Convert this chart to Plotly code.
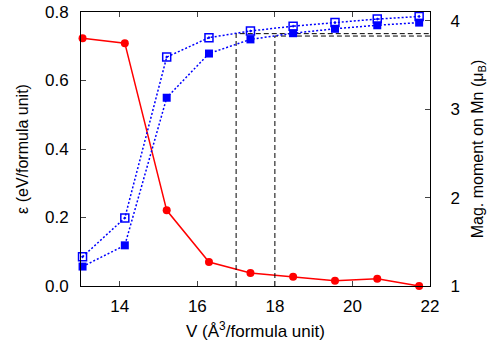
import plotly.graph_objects as go

# Volumen pro Formeleinheit
volumen = [13.04, 14.13, 15.21, 16.30, 17.37, 18.47, 19.55, 20.64, 21.72]
# Energie (linke Achse)
energie = [0.723, 0.709, 0.221, 0.070, 0.038, 0.027, 0.015, 0.021, 0.0]
# magnetisches Moment (rechte Achse)
moment_offen = [1.33, 1.77, 3.59, 3.81, 3.885, 3.94, 3.98, 4.02, 4.05]
moment_voll = [1.22, 1.46, 3.13, 3.63, 3.79, 3.86, 3.91, 3.95, 3.98]

# gestrichelte Hilfslinien
grenze_v = [17, 18]
grenze_m = [3.855, 3.828]

x_ticks = [14, 16, 18, 20, 22]
y_ticks = [0.0, 0.2, 0.4, 0.6, 0.8]
y2_ticks = [1, 2, 3, 4]

schrift = "Liberation Sans, Arial, sans-serif"

fig = go.Figure()

for v, m in zip(grenze_v, grenze_m):
    fig.add_trace(go.Scatter(x=[v, v, 22], y=[1, m, m], yaxis="y2", mode="lines",
                             line=dict(color="black", width=1, dash="5px,3px"),
                             showlegend=False, hoverinfo="skip"))

fig.add_trace(go.Scatter(x=volumen, y=energie, mode="lines+markers",
                         line=dict(color="#ff0000", width=1.5),
                         marker=dict(color="#ff0000", size=8, symbol="circle"),
                         showlegend=False, cliponaxis=False))

fig.add_trace(go.Scatter(x=volumen, y=moment_offen, yaxis="y2", mode="lines+markers",
                         line=dict(color="#0000ff", width=1.5, dash="2px,2px"),
                         marker=dict(color="#0000ff", size=8, symbol="square-open-dot",
                                     line=dict(width=1.5)),
                         showlegend=False, cliponaxis=False))

fig.add_trace(go.Scatter(x=volumen, y=moment_voll, yaxis="y2", mode="lines+markers",
                         line=dict(color="#0000ff", width=1.5, dash="2px,2px"),
                         marker=dict(color="#0000ff", size=8, symbol="square"),
                         showlegend=False, cliponaxis=False))

fig.update_layout(
    width=500, height=341,
    margin=dict(l=81, r=70, t=12, b=55, autoexpand=False),
    paper_bgcolor="white", plot_bgcolor="white",
    font=dict(family=schrift, size=17, color="black"),
    xaxis=dict(range=[13, 22], tickvals=x_ticks, ticks="inside", ticklen=5,
               ticklabelstandoff=5,
               showline=True, linecolor="black", linewidth=1, mirror="ticks",
               showgrid=False, zeroline=False, automargin=False,
               title=dict(text="V (Å<sup>3</sup>/formula unit)", font=dict(size=17), standoff=12)),
    yaxis=dict(range=[0, 0.8], tickvals=y_ticks, tickformat=".1f", ticks="inside", ticklen=5,
               ticklabelstandoff=8,
               showline=True, linecolor="black", linewidth=1,
               showgrid=False, zeroline=False, automargin=False,
               title=dict(text="ε (eV/formula unit)", font=dict(size=16), standoff=12)),
    yaxis2=dict(range=[1, 4.1], tickvals=y2_ticks, ticks="inside", ticklen=5,
                ticklabelstandoff=16,
                overlaying="y", side="right",
                showline=True, linecolor="black", linewidth=1,
                showgrid=False, zeroline=False, automargin=False,
                title=dict(text="Mag. moment on Mn (μ<sub>B</sub>)", font=dict(size=16), standoff=12)),
)

# Seitenrand entfernen, damit der Plot bei (0, 0) beginnt
fig.write_html("out.html", config={"displayModeBar": False},
               post_script="document.body.style.margin='0';")
